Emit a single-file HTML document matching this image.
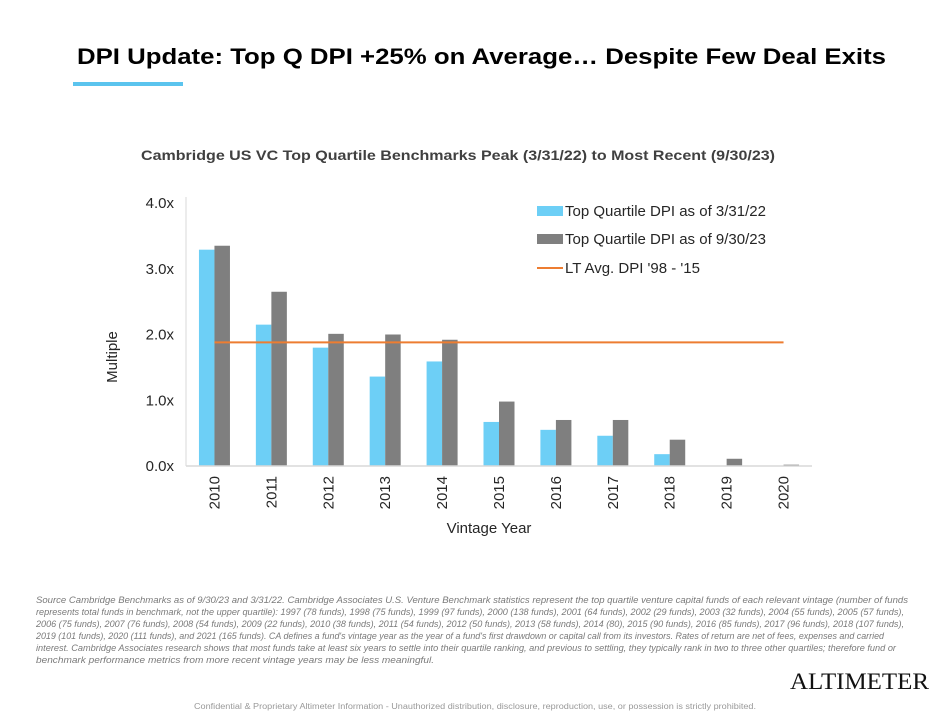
<!DOCTYPE html>
<html><head><meta charset="utf-8"><style>
body{margin:0;background:#fff;width:942px;height:716px;overflow:hidden;font-family:"Liberation Sans",sans-serif}
svg{display:block}
</style></head><body>
<svg id="c" width="942" height="716" xmlns="http://www.w3.org/2000/svg">
<text x="77" y="64" font-size="22" font-weight="bold" fill="#000" textLength="809" lengthAdjust="spacingAndGlyphs">DPI Update: Top Q DPI +25% on Average… Despite Few Deal Exits</text>
<rect x="73" y="82" width="110" height="4" fill="#5BC4EE"/>
<text x="141" y="160" font-size="14" font-weight="bold" fill="#404040" textLength="634" lengthAdjust="spacingAndGlyphs">Cambridge US VC Top Quartile Benchmarks Peak (3/31/22) to Most Recent (9/30/23)</text>
<g id="yaxis"></g>
<g id="bars"></g>
<g id="xaxis"></g>
<text transform="translate(117,357) rotate(-90)" text-anchor="middle" font-size="15" fill="#262626">Multiple</text>
<text x="489" y="533" text-anchor="middle" font-size="15" fill="#262626">Vintage Year</text>
<g>
<rect x="537" y="206" width="26" height="10" fill="#6DCFF6"/>
<text x="565" y="216" font-size="15" fill="#262626">Top Quartile DPI as of 3/31/22</text>
<rect x="537" y="234" width="26" height="10" fill="#7F7F7F"/>
<text x="565" y="244" font-size="15" fill="#262626">Top Quartile DPI as of 9/30/23</text>
<line x1="537" y1="268" x2="563" y2="268" stroke="#ED7D31" stroke-width="2"/>
<text x="565" y="273" font-size="15" fill="#262626">LT Avg. DPI '98 - '15</text>
</g>
<g font-size="9" font-style="italic" fill="#7a7a7a">
<text x="36" y="603" textLength="872" lengthAdjust="spacingAndGlyphs">Source  Cambridge Benchmarks as of 9/30/23 and 3/31/22. Cambridge Associates U.S. Venture Benchmark statistics represent the top quartile venture capital funds of each relevant vintage (number of funds</text>
<text x="36" y="615" textLength="868" lengthAdjust="spacingAndGlyphs">represents total funds in benchmark, not the upper quartile): 1997 (78 funds), 1998 (75 funds), 1999 (97 funds), 2000 (138 funds), 2001 (64 funds), 2002 (29 funds), 2003 (32 funds), 2004 (55 funds), 2005 (57 funds),</text>
<text x="36" y="627" textLength="868" lengthAdjust="spacingAndGlyphs">2006 (75 funds), 2007 (76 funds), 2008 (54 funds), 2009 (22 funds), 2010 (38 funds), 2011 (54 funds), 2012 (50 funds), 2013 (58 funds), 2014 (80), 2015 (90 funds), 2016 (85 funds), 2017 (96 funds), 2018 (107 funds),</text>
<text x="36" y="639" textLength="848" lengthAdjust="spacingAndGlyphs">2019 (101 funds), 2020 (111 funds), and 2021 (165 funds). CA defines a fund's vintage year as the year of a fund's first drawdown or capital call from its investors. Rates of return are net of fees, expenses and carried</text>
<text x="36" y="651" textLength="860" lengthAdjust="spacingAndGlyphs">interest. Cambridge Associates research shows that  most funds take at  least six years to settle into their quartile ranking, and previous to settling, they typically rank in two to three other quartiles; therefore fund or</text>
<text x="36" y="663" textLength="398" lengthAdjust="spacingAndGlyphs">benchmark performance metrics from more recent vintage years may be less meaningful.</text>
</g>
<text x="790" y="689" font-family="Liberation Serif, serif" font-size="23" fill="#111" textLength="139" lengthAdjust="spacingAndGlyphs">ALTIMETER</text>
<text x="475" y="709" text-anchor="middle" font-size="8" fill="#999" textLength="562" lengthAdjust="spacingAndGlyphs">Confidential &amp; Proprietary Altimeter Information - Unauthorized distribution, disclosure, reproduction, use, or possession is strictly prohibited.</text>
</svg>
<script>
const years = ['2010','2011','2012','2013','2014','2015','2016','2017','2018','2019','2020'];
const dpi2022 = [3.29,2.15,1.80,1.36,1.59,0.67,0.55,0.46,0.18,0,0];
const dpi2023 = [3.35,2.65,2.01,2.00,1.92,0.98,0.70,0.70,0.40,0.11,0.02];
const ltAvg = 1.88;
const yTicks = [0,1,2,3,4];
const yTickLabels = ['0.0x','1.0x','2.0x','3.0x','4.0x'];
const NS='http://www.w3.org/2000/svg';
const x0=186,x1=812,y0=466,yTop=203;
const band=(x1-x0)/years.length, bw=15.5;
function yS(v){return y0-(y0-yTop)*v/4;}
function xC(i){return x0+band*(i+0.5);}
function mk(t,a,p){const e=document.createElementNS(NS,t);for(const k in a)e.setAttribute(k,a[k]);p.appendChild(e);return e;}
const ya=document.getElementById('yaxis'),ba=document.getElementById('bars'),xa=document.getElementById('xaxis');
yTicks.forEach((v,i)=>{
  const t=mk('text',{x:174,y:yS(v)+5,'text-anchor':'end','font-size':15,fill:'#262626'},ya);
  t.textContent=yTickLabels[i];
  
  
});
const al=mk('line',{x1:x0,y1:yTop-6,x2:x0,y2:y0,stroke:'#d9d9d9','stroke-width':1},ya);


years.forEach((yr,i)=>{
  const c=xC(i);
  const b1=mk('rect',{x:c-bw,y:yS(dpi2022[i]),width:bw,height:y0-yS(dpi2022[i]),fill:'#6DCFF6'},ba);
  
  
  const b2=mk('rect',{x:c,y:yS(dpi2023[i]),width:bw,height:y0-yS(dpi2023[i]),fill:'#7F7F7F'},ba);
  
  
  const t=mk('text',{transform:`translate(${c+5},${y0+10}) rotate(-90)`,'text-anchor':'end','font-size':15,fill:'#262626'},xa);
  t.textContent=yr;
  
  
});
const xl=mk('line',{x1:x0,y1:y0,x2:x1,y2:y0,stroke:'#d9d9d9','stroke-width':1.5},xa);


const ln=mk('line',{x1:xC(0),y1:yS(ltAvg),x2:xC(years.length-1),y2:yS(ltAvg),stroke:'#ED7D31','stroke-width':2},ba);


</script>
</body></html>
